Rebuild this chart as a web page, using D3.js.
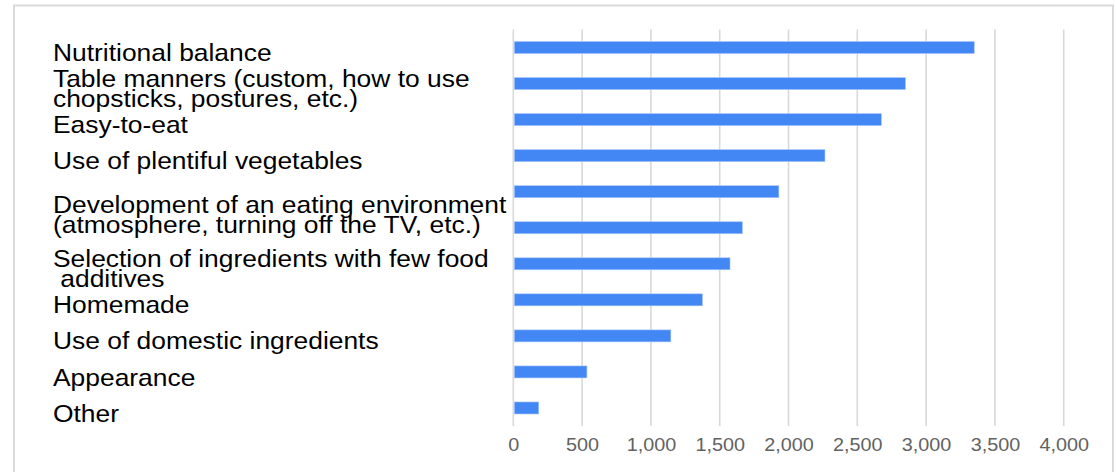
<!DOCTYPE html>
<html>
<head>
<meta charset="utf-8">
<script src="https://cdn.jsdelivr.net/npm/d3@7"></script>
<style>
  html, body { margin: 0; padding: 0; background: #fff; }
  svg { display: block; }
  text { font-family: "Liberation Sans", Arial, sans-serif; }
</style>
</head>
<body>
<svg id="chart" width="1116" height="472"></svg>
<script>
// ---- data ----
const categories = [
  "Nutritional balance",
  "Table manners (custom, how to use\nchopsticks, postures, etc.)",
  "Easy-to-eat",
  "Use of plentiful vegetables",
  "Development of an eating environment\n(atmosphere, turning off the TV, etc.)",
  "",
  "Selection of ingredients with few food\n additives",
  "Homemade",
  "Use of domestic ingredients",
  "Appearance",
  "Other"
];
const values = [3350, 2850, 2675, 2265, 1930, 1665, 1575, 1375, 1145, 535, 185];
const tickValues = [0, 500, 1000, 1500, 2000, 2500, 3000, 3500, 4000];

// ---- layout ----
const W = 1116, H = 472;
const plot = { left: 513.3, right: 1063.7, top: 29.5, bottom: 426 };
const svg = d3.select("#chart");

// outer frame
svg.append("rect")
  .attr("x", 14).attr("y", 5.5)
  .attr("width", 1099).attr("height", 490)
  .attr("fill", "none").attr("stroke", "#dadada").attr("stroke-width", 2);

const x = d3.scaleLinear().domain([0, 4000]).range([plot.left, plot.right]);
const y = d3.scaleBand().domain(d3.range(categories.length))
  .range([plot.top, plot.bottom]).paddingInner(0.667).paddingOuter(0.3335);

// gridlines
svg.append("g").selectAll("line").data(tickValues).join("line")
  .attr("x1", d => x(d)).attr("x2", d => x(d))
  .attr("y1", plot.top).attr("y2", plot.bottom)
  .attr("stroke", "#d9d9d9").attr("stroke-width", 1.6);

// bars
svg.append("g").selectAll("rect").data(values).join("rect")
  .attr("x", x(0) + 1)
  .attr("y", (d, i) => y(i))
  .attr("width", d => x(d) - x(0) - 1)
  .attr("height", y.bandwidth())
  .attr("fill", "#4387f5")
  .attr("stroke", "#a9c6fa").attr("stroke-width", 0.6);

// x-axis tick labels
const xAxis = d3.axisBottom(x).tickValues(tickValues).tickFormat(d3.format(",")).tickSize(0).tickPadding(0);
const gx = svg.append("g").attr("transform", `translate(0,${plot.bottom})`).call(xAxis);
gx.select(".domain").remove();
gx.selectAll(".tick text")
  .attr("y", 0).attr("dy", 0).attr("x", 0)
  .attr("transform", "translate(0,25) scale(1.1,1)")
  .attr("text-anchor", "middle")
  .style("font-family", '"Liberation Sans", Arial, sans-serif')
  .style("font-size", "18px")
  .attr("fill", "#626262");

// category labels (a label followed by an empty category spans both bars)
const labelGroups = [];
categories.forEach((c, i) => {
  if (c === "" && labelGroups.length) labelGroups[labelGroups.length - 1].idx.push(i);
  else labelGroups.push({ text: c, idx: [i] });
});
const fs = 24, lineH = 20, cap = fs * 0.716, shift = 5;
labelGroups.forEach(g => {
  const centre = d3.mean(g.idx, i => y(i) + y.bandwidth() / 2) + shift;
  const lines = g.text.split("\n");
  const blockH = cap + (lines.length - 1) * lineH;
  const firstBase = centre - blockH / 2 + cap;
  const t = svg.append("text")
    .attr("transform", `translate(53,${firstBase}) scale(1.1,1)`)
    .attr("font-size", fs).attr("fill", "#000")
    .style("white-space", "pre");
  lines.forEach((ln, k) => {
    t.append("tspan").attr("x", 0).attr("dy", k === 0 ? 0 : lineH).text(ln);
  });
});
</script>
</body>
</html>
